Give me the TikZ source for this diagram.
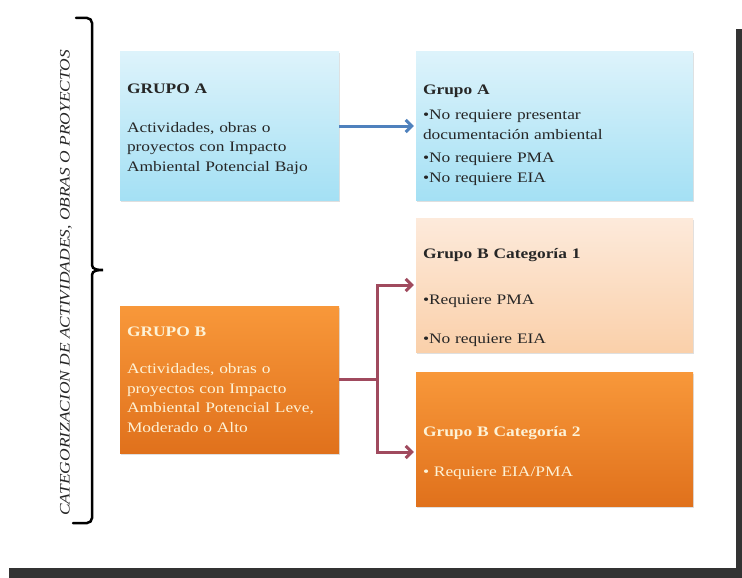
\documentclass[tikz,border=0pt]{standalone}
\usepackage{fontspec}
\setmainfont{Liberation Serif}[FakeStretch=1.2]
\usetikzlibrary{arrows.meta,shadows}
\definecolor{ink}{HTML}{262626}
\definecolor{cream}{HTML}{FDF2D6}
\definecolor{frameGrey}{HTML}{333333}
\definecolor{blueTop}{HTML}{DDF3FB}
\definecolor{blueBot}{HTML}{A4E0F4}
\definecolor{peachTop}{HTML}{FDEADB}
\definecolor{peachBot}{HTML}{FAD0AA}
\definecolor{orangeTop}{HTML}{F8983A}
\definecolor{orangeBot}{HTML}{E0711C}
\definecolor{linkBlue}{HTML}{4F81BD}
\definecolor{linkRed}{HTML}{A04A5E}
\begin{document}
\begin{tikzpicture}[x=1pt,y=-1pt,
  box/.style={inner xsep=7pt, align=left, font=\fontsize{14.5}{19.5}\selectfont,
    drop shadow={opacity=0.25,shadow xshift=1pt,shadow yshift=-1.5pt}},
  leftbox/.style={box, minimum width=219pt, text width=205pt},
  rightbox/.style={box, minimum width=277pt, text width=263pt},
  bluebox/.style={top color=blueTop, bottom color=blueBot, text=ink},
  peachbox/.style={top color=peachTop, bottom color=peachBot, text=ink},
  orangebox/.style={top color=orangeTop, bottom color=orangeBot, text=cream},
  link/.style={line width=3pt, shorten >=2pt, -{Straight Barb[length=6pt,width=12pt]}}]
  \useasboundingbox (0,0) rectangle (742,578);
  % frame
  \fill[frameGrey] (736,29) rectangle (742,578);
  \fill[frameGrey] (9,568) rectangle (742,578);
  % brace and title
  \draw[line width=2.5pt, line cap=round]
    (76,18) -- (87,18) to[out=0,in=90] (92,23) -- (92,265)
    to[out=-90,in=180] (103,270) to[out=180,in=90] (92,275)
    -- (92,518) to[out=-90,in=0] (87,523) -- (73,523);
  \node[rotate=90, text=ink, font=\fontsize{14.5}{16}\selectfont\itshape] (title) at (66,283)
    {CATEGORIZACION DE ACTIVIDADES, OBRAS O PROYECTOS};
  % boxes
  \path
    (229.5,126) node[leftbox, bluebox, minimum height=148pt] (grupoA)
      {\rule{0pt}{16pt}{\bfseries GRUPO A}\\[19.5pt]
       Actividades, obras o\\ proyectos con Impacto\\ Ambiental Potencial Bajo}
    (554.5,126) node[rightbox, bluebox, minimum height=148pt] (reqA)
      {\rule{0pt}{28pt}{\bfseries Grupo A}\\[6pt]
       •No requiere presentar\\ documentación ambiental\\[4pt]
       •No requiere PMA\\ •No requiere EIA}
    (229.5,379.5) node[leftbox, orangebox, minimum height=147pt] (grupoB)
      {{\bfseries GRUPO B}\\[18pt]
       Actividades, obras o\\ proyectos con Impacto\\ Ambiental Potencial Leve,\\ Moderado o Alto}
    (554.5,285) node[rightbox, peachbox, minimum height=134pt] (catB1)
      {\rule{0pt}{36pt}{\bfseries Grupo B Categoría 1}\\[26pt]
       •Requiere PMA\\[20pt]
       •No requiere EIA}
    (554.5,439) node[rightbox, orangebox, minimum height=134pt] (catB2)
      {\rule{0pt}{38pt}{\bfseries Grupo B Categoría 2}\\[21pt]
       • Requiere EIA/PMA};
  \coordinate (split) at (377,379.5);
  \begin{scope}[link]
    \draw[linkBlue] (grupoA) to (reqA);
    \draw[linkRed] (grupoB.east) -- (split) |- (catB1.west);
    \draw[linkRed] (split) |- ([yshift=-13pt]catB2.west);
  \end{scope}
\end{tikzpicture}
\end{document}
